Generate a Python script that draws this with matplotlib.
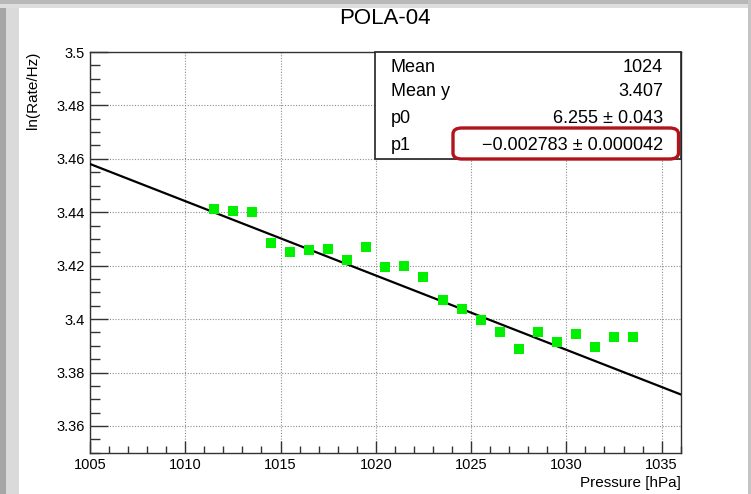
import numpy as np
import matplotlib
matplotlib.use("Agg")
import matplotlib.pyplot as plt
from matplotlib.patches import Rectangle, FancyBboxPatch
from matplotlib.ticker import MultipleLocator

plt.rcParams['font.family'] = ['Liberation Sans', 'DejaVu Sans']

# binned pressure (bin centres) and ln of the counting rate
pressure = [1011.5, 1012.5, 1013.5, 1014.5, 1015.5, 1016.5, 1017.5, 1018.5,
            1019.5, 1020.5, 1021.5, 1022.5, 1023.5, 1024.5, 1025.5, 1026.5,
            1027.5, 1028.5, 1029.5, 1030.5, 1031.5, 1032.5, 1033.5]
lnRate = [3.4412, 3.4405, 3.4401, 3.4286, 3.4251, 3.4259, 3.4261, 3.4220,
          3.4270, 3.4195, 3.4199, 3.4159, 3.4073, 3.4037, 3.3997, 3.3953,
          3.3887, 3.3953, 3.3914, 3.3943, 3.3894, 3.3934, 3.3934]

# linear fit ln(R) = p0 + p1*P
p0 = 6.255
p1 = -0.002783
statNames = ["Mean", "Mean y", "p0", "p1"]
statValues = ["1024", "3.407", "6.255 \u00b1 0.043", "\u22120.002783 \u00b1 0.000042"]

W, H = 751, 494

def px(x, y):
    # pixel position from top-left -> figure fraction
    return x / W, 1 - y / H

fig = plt.figure(figsize=(W / 100, H / 100), dpi=100)

# grey window frame
for (x0, y0, w, h, c) in [(0, 0, 6, H, '#a6a6a6'), (6, 0, 13, H, '#dadada'),
                          (0, 0, W, 4, '#b8b8b8'), (0, 4, W, 4, '#dedede'),
                          (W - 3, 0, 3, H, '#c4c4c4')]:
    fx, fy = px(x0, y0 + h)
    fig.patches.append(Rectangle((fx, fy), w / W, h / H, transform=fig.transFigure,
                                 facecolor=c, edgecolor='none', zorder=0))

left, top = px(90, 52)
right, bottom = px(680.7, 452.7)
ax = fig.add_axes([left, bottom, right - left, top - bottom])

ax.set_xlim(1005, 1036)
ax.set_ylim(3.35, 3.5)
ax.xaxis.set_major_locator(MultipleLocator(5))
ax.xaxis.set_minor_locator(MultipleLocator(1))
ax.yaxis.set_major_locator(MultipleLocator(0.02))
ax.yaxis.set_minor_locator(MultipleLocator(0.005))
ax.yaxis.set_major_formatter(plt.FuncFormatter(lambda v, p: ('%.3f' % v).rstrip('0').rstrip('.')))

ax.tick_params(axis='x', which='major', direction='in', length=8.6, width=1, labelsize=10.5, pad=4, color='#333333')
ax.tick_params(axis='x', which='minor', direction='in', length=5, width=1, color='#333333')
ax.tick_params(axis='y', which='major', direction='in', length=13, width=1, labelsize=10.5, pad=4, color='#333333')
ax.tick_params(axis='y', which='minor', direction='in', length=7, width=1, color='#333333')
for s in ax.spines.values():
    s.set_linewidth(1.0)
    s.set_color('#333333')

ax.grid(True, which='major', linestyle=(0, (1, 1.5)), color='#8c8c8c', linewidth=0.8)
ax.set_axisbelow(True)

# fit line over the whole axis range
xfit = np.linspace(1005, 1036, 100)
ax.plot(xfit, p0 + p1 * xfit, color='black', linewidth=1.6, zorder=3)

ax.plot(pressure, lnRate, linestyle='none', marker='s', markersize=7,
        color='#00f000', markeredgewidth=0, zorder=4)

fig.text(*px(385, 18), "POLA-04", fontsize=16, ha='center', va='center')
fig.text(*px(33, 52), "ln(Rate/Hz)", fontsize=11, rotation=90, ha='center', va='top')
fig.text(*px(680.7, 483), "Pressure [hPa]", fontsize=11, ha='right', va='center')

# statistics box
bx0, by1 = px(375, 159)
bx1, by0 = px(680.7, 52)
fig.patches.append(Rectangle((bx0, by1), bx1 - bx0, by0 - by1, transform=fig.transFigure,
                             facecolor='white', edgecolor='#222222', linewidth=1.2, zorder=5))
rows = [67, 92, 118, 145]
for name, val, yr in zip(statNames, statValues, rows):
    fig.text(*px(391, yr), name, fontsize=13, ha='left', va='center', zorder=6)
    fig.text(*px(663, yr), val, fontsize=13, ha='right', va='center', zorder=6)

# highlight of the slope value
rx0, ry1 = px(453, 159)
rx1, ry0 = px(678.5, 128)
fig.patches.append(FancyBboxPatch((rx0, ry1), rx1 - rx0, ry0 - ry1,
                                  boxstyle="round,pad=0,rounding_size=0.012",
                                  transform=fig.transFigure, facecolor='none',
                                  edgecolor='#b0141c', linewidth=2.4, zorder=7))

fig.savefig("out.png", dpi=100)
